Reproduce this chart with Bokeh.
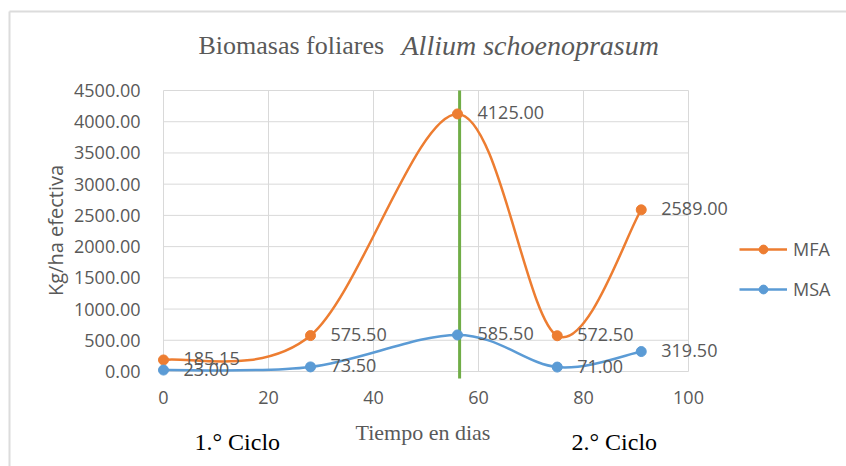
import numpy as np
from bokeh.plotting import figure
from bokeh.models import (ColumnDataSource, NumeralTickFormatter, Label, LabelSet,
                          Legend, LegendItem, Arrow, Range1d, LinearAxis, FixedTicker)
from bokeh.core.properties import value
from bokeh.embed import file_html
from bokeh.resources import INLINE

# ---------------- data ----------------
dias = [0, 28, 56, 75, 91]
mfa = [185.15, 575.50, 4125.00, 572.50, 2589.00]
msa = [23.00, 73.50, 585.50, 71.00, 319.50]
mfa_text = ["185.15", "575.50", "4125.00", "572.50", "2589.00"]
msa_text = ["23.00", "73.50", "585.50", "71.00", "319.50"]
x_ticks = [0, 20, 40, 60, 80, 100]
y_ticks = [0, 500, 1000, 1500, 2000, 2500, 3000, 3500, 4000, 4500]
ciclo_div = 56.4
series_names = ["MFA", "MSA"]

ORANGE = "#ED7D31"
BLUE = "#5B9BD5"
GREEN = "#70AD47"
GRID = "#d9d9d9"
TXT = "#595959"
SANS = "Open Sans"
SERIF = "Liberation Serif"

# ---------------- layout ----------------
W, H = 846, 466
# plot area in canvas pixels
PX_L, PX_R, PX_T, PX_B = 163, 688, 90, 371
XMIN, XMAX, YMIN, YMAX = x_ticks[0], x_ticks[-1], y_ticks[0], y_ticks[-1]
sx = (PX_R - PX_L) / (XMAX - XMIN)
sy = (PX_B - PX_T) / (YMAX - YMIN)

def dx(px):
    return XMIN + (px - PX_L) / sx
def dy(py):
    return YMIN + (PX_B - py) / sy

p = figure(width=W, height=H, min_border=0,
           x_range=Range1d(dx(0), dx(W)), y_range=Range1d(dy(H), dy(0)),
           x_axis_location=None, y_axis_location=None,
           output_backend="svg", toolbar_location=None)
p.outline_line_color = None
p.background_fill_color = "white"
p.border_fill_color = "white"
p.grid.visible = False

# axes fixed at the plot-area edges
xax = LinearAxis(fixed_location=YMIN, ticker=FixedTicker(ticks=x_ticks))
yax = LinearAxis(fixed_location=XMIN, ticker=FixedTicker(ticks=y_ticks),
                 formatter=NumeralTickFormatter(format="0.00"))
for ax in (xax, yax):
    ax.axis_line_color = None
    ax.major_tick_line_color = None
    ax.minor_tick_line_color = None
    ax.major_label_text_font = SANS
    ax.major_label_text_font_size = "18px"
    ax.major_label_text_color = TXT
xax.major_label_standoff = 13
yax.major_label_standoff = 17
p.add_layout(xax, "below")
p.add_layout(yax, "left")

# gridlines drawn from tick arrays
p.segment(x0=x_ticks, y0=YMIN, x1=x_ticks, y1=YMAX, line_color=GRID, line_width=1)
p.segment(x0=XMIN, y0=y_ticks, x1=XMAX, y1=y_ticks, line_color=GRID, line_width=1)

# outer chart border (top & left, as in the cropped original)
for xs, ys in (((9, W), (11, 11)), ((9, 9), (11, H))):
    p.add_layout(Arrow(x_start=dx(xs[0]), y_start=dy(ys[0]), x_end=dx(xs[1]), y_end=dy(ys[1]),
                       start=None, end=None, line_color="#dcdcdc", line_width=2))

# ---------------- smoothed lines (Excel-like Bezier) ----------------
def smooth_segments(xs, ys):
    n = len(xs)
    d = dict(x0=[], y0=[], x1=[], y1=[], cx0=[], cy0=[], cx1=[], cy1=[])
    for i in range(n - 1):
        a = i - 1 if i > 0 else i
        b = i + 2 if i + 2 < n else i + 1
        d["x0"].append(xs[i]); d["y0"].append(ys[i])
        d["x1"].append(xs[i + 1]); d["y1"].append(ys[i + 1])
        d["cx0"].append(xs[i] + (xs[i + 1] - xs[a]) / 6.0)
        d["cy0"].append(ys[i] + (ys[i + 1] - ys[a]) / 6.0)
        d["cx1"].append(xs[i + 1] - (xs[b] - xs[i]) / 6.0)
        d["cy1"].append(ys[i + 1] - (ys[b] - ys[i]) / 6.0)
    return ColumnDataSource(d)

# green divider between cycles
p.segment(x0=[ciclo_div], y0=[YMAX], x1=[ciclo_div], y1=[dy(378)],
          line_color=GREEN, line_width=3)

items = []
for name, vals, txt, col in ((series_names[0], mfa, mfa_text, ORANGE),
                             (series_names[1], msa, msa_text, BLUE)):
    p.bezier(x0="x0", y0="y0", x1="x1", y1="y1", cx0="cx0", cy0="cy0",
             cx1="cx1", cy1="cy1", source=smooth_segments(dias, vals),
             line_color=col, line_width=2.5)
    src = ColumnDataSource(dict(x=dias, y=vals, t=txt))
    sc = p.scatter("x", "y", source=src, size=10, fill_color=col, line_color=col)
    # legend-only line sample (NaN point: nothing drawn in the plot)
    dummy = p.line(x=[np.nan], y=[np.nan], line_color=col, line_width=2.5)
    items.append(LegendItem(label=name, renderers=[dummy, sc]))
    p.add_layout(LabelSet(x="x", y="y", text="t", source=src, x_offset=20, y_offset=1,
                          text_align="left", text_baseline="middle",
                          text_font=value(SANS), text_font_size=value("18px"),
                          text_color=value(TXT)))

# legend
leg = Legend(items=items, location=(739, H - 301),
             orientation="vertical", glyph_width=48, glyph_height=22,
             label_height=22, label_standoff=6, spacing=16, padding=0, margin=0,
             border_line_color=None, background_fill_alpha=0,
             label_text_font=SANS, label_text_font_size="18px",
             label_text_color=TXT)
p.add_layout(leg)

# ---------------- texts ----------------
def add_label(text, px, py, font, size, color, style="normal", align="left"):
    p.add_layout(Label(x=dx(px), y=dy(py), text=text, text_font=font,
                       text_font_size=size, text_color=color, text_font_style=style,
                       text_align=align, text_baseline="middle"))

add_label("Biomasas foliares", 198, 45, SERIF, "26px", TXT)
add_label("Allium schoenoprasum", 401, 45, SERIF, "28px", TXT, style="italic")
add_label("Tiempo en dias", 355, 432, SERIF, "22px", TXT)
add_label("1.° Ciclo", 194, 441, SERIF, "24px", "black")
add_label("2.° Ciclo", 571, 441, SERIF, "24px", "black")

p.add_layout(Label(x=dx(55), y=dy(230), text="Kg/ha efectiva", angle=np.pi / 2,
                   text_font=SANS, text_font_size="20px", text_color=TXT,
                   text_align="center", text_baseline="middle"))

open("out.html", "w").write(file_html(p, INLINE))
